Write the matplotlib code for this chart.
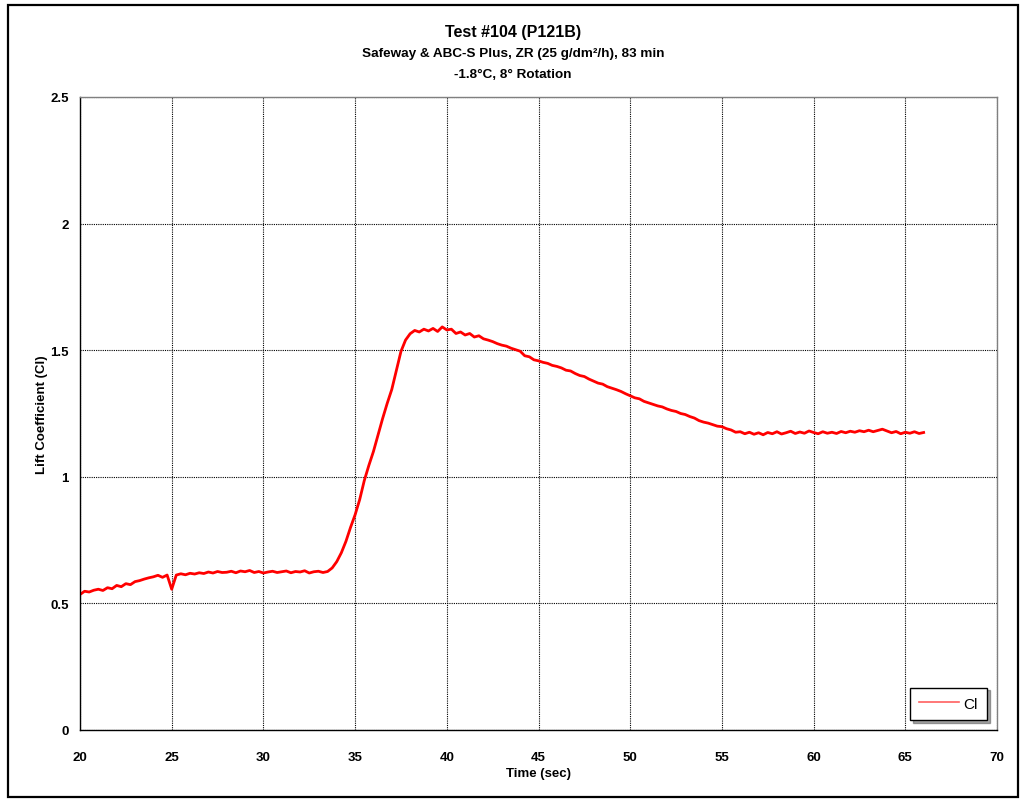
import numpy as np
import matplotlib
matplotlib.use("Agg")
import matplotlib.pyplot as plt
from matplotlib.patches import Rectangle

plt.rcParams['font.family'] = ['Liberation Sans', 'DejaVu Sans']

# Lift coefficient sampled every 0.25 s starting at 20 s
t_start = 20.0
t_step = 0.25
cl = [
    0.535, 0.548, 0.545, 0.552, 0.556, 0.551, 0.562, 0.558, 0.571, 0.566,
    0.578, 0.574, 0.586, 0.590, 0.596, 0.601, 0.605, 0.611, 0.603, 0.612,
    0.556,
    0.612, 0.617, 0.613, 0.619, 0.616, 0.621, 0.618, 0.624, 0.620, 0.626,
    0.622, 0.623, 0.627, 0.621, 0.628, 0.625, 0.630, 0.622, 0.626, 0.620,
    0.624, 0.627, 0.622, 0.625, 0.628, 0.621, 0.626, 0.624, 0.629, 0.620,
    0.625, 0.627, 0.622, 0.626,
    0.640, 0.665, 0.700, 0.745, 0.800, 0.850, 0.910, 0.985, 1.045, 1.100,
    1.165, 1.230, 1.290, 1.345, 1.420, 1.495, 1.540, 1.565,
    1.578, 1.572, 1.583, 1.576, 1.586, 1.574, 1.592, 1.580, 1.583, 1.566,
    1.572, 1.560, 1.566, 1.552, 1.557, 1.545, 1.540, 1.534, 1.526, 1.520,
    1.516, 1.508, 1.502, 1.496, 1.478, 1.474, 1.462, 1.458, 1.452, 1.448,
    1.440, 1.436, 1.430, 1.421, 1.418, 1.408, 1.400, 1.396, 1.386, 1.378,
    1.370, 1.366, 1.356, 1.350, 1.344, 1.337, 1.328, 1.320, 1.312, 1.308,
    1.298, 1.292, 1.286, 1.280, 1.276, 1.268, 1.262, 1.258, 1.250, 1.246,
    1.238, 1.232, 1.222, 1.216, 1.212, 1.206, 1.200, 1.198, 1.190, 1.185,
    1.176, 1.178, 1.170, 1.176, 1.168, 1.174, 1.166, 1.175, 1.170, 1.178,
    1.169, 1.174, 1.180, 1.171, 1.177, 1.172, 1.181, 1.175, 1.170, 1.178,
    1.172, 1.176, 1.171, 1.179, 1.174, 1.180, 1.176, 1.182, 1.178, 1.184,
    1.178, 1.183, 1.188, 1.181, 1.174, 1.179, 1.170, 1.176, 1.172, 1.178,
    1.171, 1.175,
]
time = t_start + t_step * np.arange(len(cl))

x_ticks = [20, 25, 30, 35, 40, 45, 50, 55, 60, 65, 70]
y_ticks = [0, 0.5, 1, 1.5, 2, 2.5]
y_tick_labels = ['0', '0.5', '1', '1.5', '2', '2.5']

title_lines = ["Test #104 (P121B)",
               "Safeway & ABC-S Plus, ZR (25 g/dm²/h), 83 min",
               "-1.8°C, 8° Rotation"]

W, H = 1026, 804
fig = plt.figure(figsize=(W / 100, H / 100), dpi=100)
fig.patch.set_facecolor('white')

# outer frame around the whole chart
fig.patches.append(Rectangle((8 / W, 6 / H), 1010 / W, 792 / H,
                             transform=fig.transFigure, fill=False,
                             edgecolor='black', linewidth=1.6))

ax = fig.add_axes([80 / W, (H - 731) / H, (997 - 80) / W, (731 - 98) / H])
ax.plot(time, cl, color='#ff0000', linewidth=2.0, label='Cl')

ax.set_xlim(20, 70)
ax.set_ylim(0, 2.5)
ax.set_xticks(x_ticks)
ax.set_xticklabels([str(v) for v in x_ticks])
ax.set_yticks(y_ticks)
ax.set_yticklabels(y_tick_labels)
ax.tick_params(axis='x', length=0, labelsize=9.5, pad=15)
ax.tick_params(axis='y', length=0, labelsize=9.5, pad=8)
for lab in ax.get_xticklabels() + ax.get_yticklabels():
    lab.set_fontweight('bold')

ax.grid(True, color='black', linestyle=(0, (1, 1)), linewidth=0.8)
ax.spines['left'].set_color('black')
ax.spines['bottom'].set_color('black')
ax.spines['top'].set_color('#808080')
ax.spines['right'].set_color('#808080')
for s in ax.spines.values():
    s.set_linewidth(1.0)

ax.set_xlabel('Time (sec)', fontsize=9.5, fontweight='bold', labelpad=3)
ax.set_ylabel('Lift Coefficient (Cl)', fontsize=9.5, fontweight='bold', labelpad=2)

fig.text(0.5, 1 - 32 / H, title_lines[0], ha='center', va='center',
         fontsize=11.5, fontweight='bold')
fig.text(0.5, 1 - 54 / H, title_lines[1], ha='center', va='center',
         fontsize=9.7, fontweight='bold')
fig.text(0.5, 1 - 75 / H, title_lines[2], ha='center', va='center',
         fontsize=9.7, fontweight='bold')

leg = ax.legend(loc='lower right', bbox_to_anchor=(0.989, 0.016),
                borderaxespad=0.0,
                frameon=True, fancybox=False, shadow=True,
                fontsize=11, handlelength=2.6, borderpad=0.6,
                handletextpad=0.3)
leg.get_frame().set_edgecolor('black')
leg.get_frame().set_linewidth(1.0)
leg.get_lines()[0].set_color('#ff6060')
leg.get_lines()[0].set_linewidth(1.2)

fig.savefig('out.png', dpi=100)
